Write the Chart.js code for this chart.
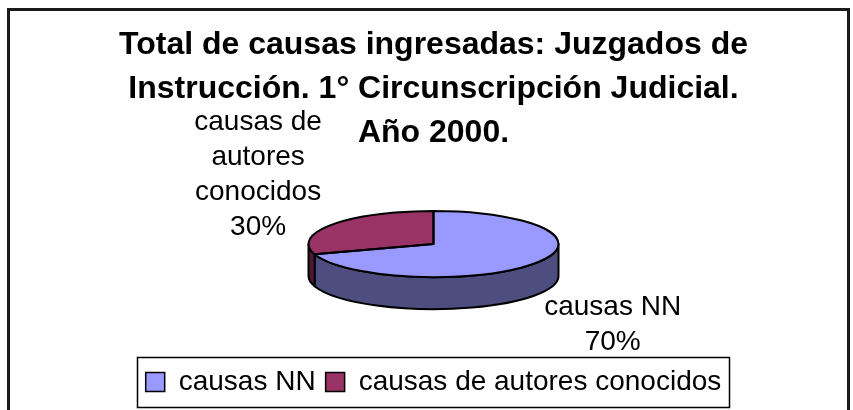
<!DOCTYPE html>
<html>
<head>
<meta charset="utf-8">
<script src="https://cdn.jsdelivr.net/npm/chart.js@4.4.0/dist/chart.umd.min.js"></script>
<style>
  html, body { margin: 0; padding: 0; background: #fff; overflow: hidden; }
  canvas { display: block; }
</style>
</head>
<body>
<canvas id="pieChart" width="853" height="410"></canvas>
<script>
// データ
const titleLines = [
  'Total de causas ingresadas: Juzgados de',
  'Instrucción. 1° Circunscripción Judicial.',
  'Año 2000.'
];
const categories = ['causas NN', 'causas de autores conocidos'];
const shares = [70, 30];
const topColors = ['#9999FF', '#993366'];
const sideColors = ['#4D4D80', '#4D1933'];

const FONT = "'Liberation Sans', Arial, Helvetica, sans-serif";
const TILT = 0.265;      // 楕円のつぶれ具合
const DEPTH = 32;        // 側面の厚み
const LABEL_LINE = 35;   // ラベルの行間

// 手前に見える角度範囲だけ取り出す
function frontRanges(s, e) {
  const out = [];
  for (let k = -1; k <= 1; k++) {
    const lo = Math.max(s, 2 * Math.PI * k);
    const hi = Math.min(e, 2 * Math.PI * k + Math.PI);
    if (hi > lo) out.push([lo, hi]);
  }
  return out;
}

// 単語で折り返し
function wrapText(ctx, text, maxWidth) {
  const words = text.split(' ');
  const lines = [];
  let line = '';
  words.forEach(w => {
    const test = line ? line + ' ' + w : w;
    if (line && ctx.measureText(test).width > maxWidth) {
      lines.push(line);
      line = w;
    } else {
      line = test;
    }
  });
  if (line) lines.push(line);
  return lines;
}

// 外枠
const outerFrame = {
  id: 'outerFrame',
  beforeDraw(chart) {
    const ctx = chart.ctx;
    ctx.save();
    ctx.strokeStyle = '#1a1a1a';
    ctx.lineWidth = 3;
    ctx.strokeRect(8.5, 9.5, 840, 500);
    ctx.restore();
  }
};

// 3D風の円グラフ
const pie3d = {
  id: 'pie3d',
  beforeDatasetsDraw(chart) {
    const ctx = chart.ctx;
    const arcs = chart.getDatasetMeta(0).data;
    if (!arcs.length) return false;
    const cx = arcs[0].x;
    const cy = arcs[0].y - DEPTH / 2;
    const rx = arcs[0].outerRadius;
    const ry = rx * TILT;

    ctx.save();
    ctx.lineWidth = 2;
    ctx.strokeStyle = '#000';
    ctx.lineJoin = 'round';

    // 側面
    arcs.forEach((arc, i) => {
      frontRanges(arc.startAngle, arc.endAngle).forEach(([a, b]) => {
        ctx.beginPath();
        ctx.ellipse(cx, cy, rx, ry, 0, a, b, false);
        ctx.lineTo(cx + rx * Math.cos(b), cy + DEPTH + ry * Math.sin(b));
        ctx.ellipse(cx, cy + DEPTH, rx, ry, 0, b, a, true);
        ctx.closePath();
        ctx.fillStyle = sideColors[i];
        ctx.fill();
        ctx.stroke();
      });
    });

    // 上面（Chart.jsのarcを縦につぶして描く）
    ctx.save();
    ctx.translate(cx, cy);
    ctx.scale(1, TILT);
    ctx.translate(-arcs[0].x, -arcs[0].y);
    arcs.forEach(arc => arc.draw(ctx));
    ctx.restore();

    // 上面の輪郭
    arcs.forEach(arc => {
      ctx.beginPath();
      ctx.moveTo(cx, cy);
      ctx.ellipse(cx, cy, rx, ry, 0, arc.startAngle, arc.endAngle, false);
      ctx.closePath();
      ctx.stroke();
    });
    ctx.restore();
    return false;
  }
};

// 扇形の外側のラベル
const sliceLabels = {
  id: 'sliceLabels',
  afterDraw(chart) {
    const ctx = chart.ctx;
    const arcs = chart.getDatasetMeta(0).data;
    const total = shares.reduce((a, b) => a + b, 0);
    ctx.save();
    ctx.font = `28px ${FONT}`;
    ctx.fillStyle = '#000';
    ctx.textAlign = 'center';
    ctx.textBaseline = 'middle';
    arcs.forEach((arc, i) => {
      const lines = wrapText(ctx, categories[i], 145);
      lines.push(Math.round(shares[i] / total * 100) + '%');
      const w = Math.max(...lines.map(l => ctx.measureText(l).width));
      const h = lines.length * LABEL_LINE;
      const mid = (arc.startAngle + arc.endAngle) / 2;
      const ax = arc.x + arc.outerRadius * 1.224 * Math.cos(mid);
      const ay = arc.y + arc.outerRadius * 0.6 * Math.sin(mid);
      const lx = ax + Math.cos(mid) * w / 2;
      const ly = ay + Math.sin(mid) * h / 2;
      lines.forEach((line, j) => {
        ctx.fillText(line, lx, ly - h / 2 + LABEL_LINE / 2 + j * LABEL_LINE);
      });
    });
    ctx.restore();
  }
};

// 凡例の枠
const legendFrame = {
  id: 'legendFrame',
  afterDraw(chart) {
    const boxes = chart.legend.legendHitBoxes;
    if (!boxes || !boxes.length) return;
    const ctx = chart.ctx;
    const left = Math.min(...boxes.map(b => b.left)) - 9;
    const right = Math.max(...boxes.map(b => b.left + b.width)) + 7;
    const top = boxes[0].top - 11;
    const bottom = boxes[0].top + boxes[0].height + 11;
    ctx.save();
    ctx.strokeStyle = '#000';
    ctx.lineWidth = 1.5;
    ctx.strokeRect(Math.round(left) + 0.5, Math.round(top) + 0.5, Math.round(right - left), Math.round(bottom - top));
    ctx.restore();
  }
};

document.addEventListener('DOMContentLoaded', function() {
  Chart.defaults.color = '#000';
  Chart.defaults.font.family = FONT;

  const ctx = document.getElementById('pieChart').getContext('2d');
  new Chart(ctx, {
    type: 'pie',
    data: {
      labels: categories,
      datasets: [{
        data: shares,
        backgroundColor: topColors,
        borderWidth: 0,
        hoverOffset: 0,
        radius: 125
      }]
    },
    options: {
      responsive: false,
      animation: false,
      devicePixelRatio: 1,
      layout: { padding: { left: 14, right: 0, top: 0, bottom: 4 } },
      plugins: {
        title: {
          display: true,
          text: titleLines,
          color: '#000',
          font: { family: FONT, size: 32, weight: 'bold', lineHeight: 1.375 },
          padding: { top: 23, bottom: 7 }
        },
        legend: {
          display: true,
          position: 'bottom',
          labels: {
            color: '#000',
            font: { family: FONT, size: 28 },
            boxWidth: 19,
            boxHeight: 19,
            padding: 10,
            generateLabels(chart) {
              const items = Chart.overrides.pie.plugins.legend.labels.generateLabels(chart);
              return items.map(item => Object.assign(item, { strokeStyle: '#000', lineWidth: 1.5 }));
            }
          }
        },
        tooltip: { enabled: false }
      }
    },
    plugins: [outerFrame, pie3d, sliceLabels, legendFrame]
  });
});
</script>
</body>
</html>
